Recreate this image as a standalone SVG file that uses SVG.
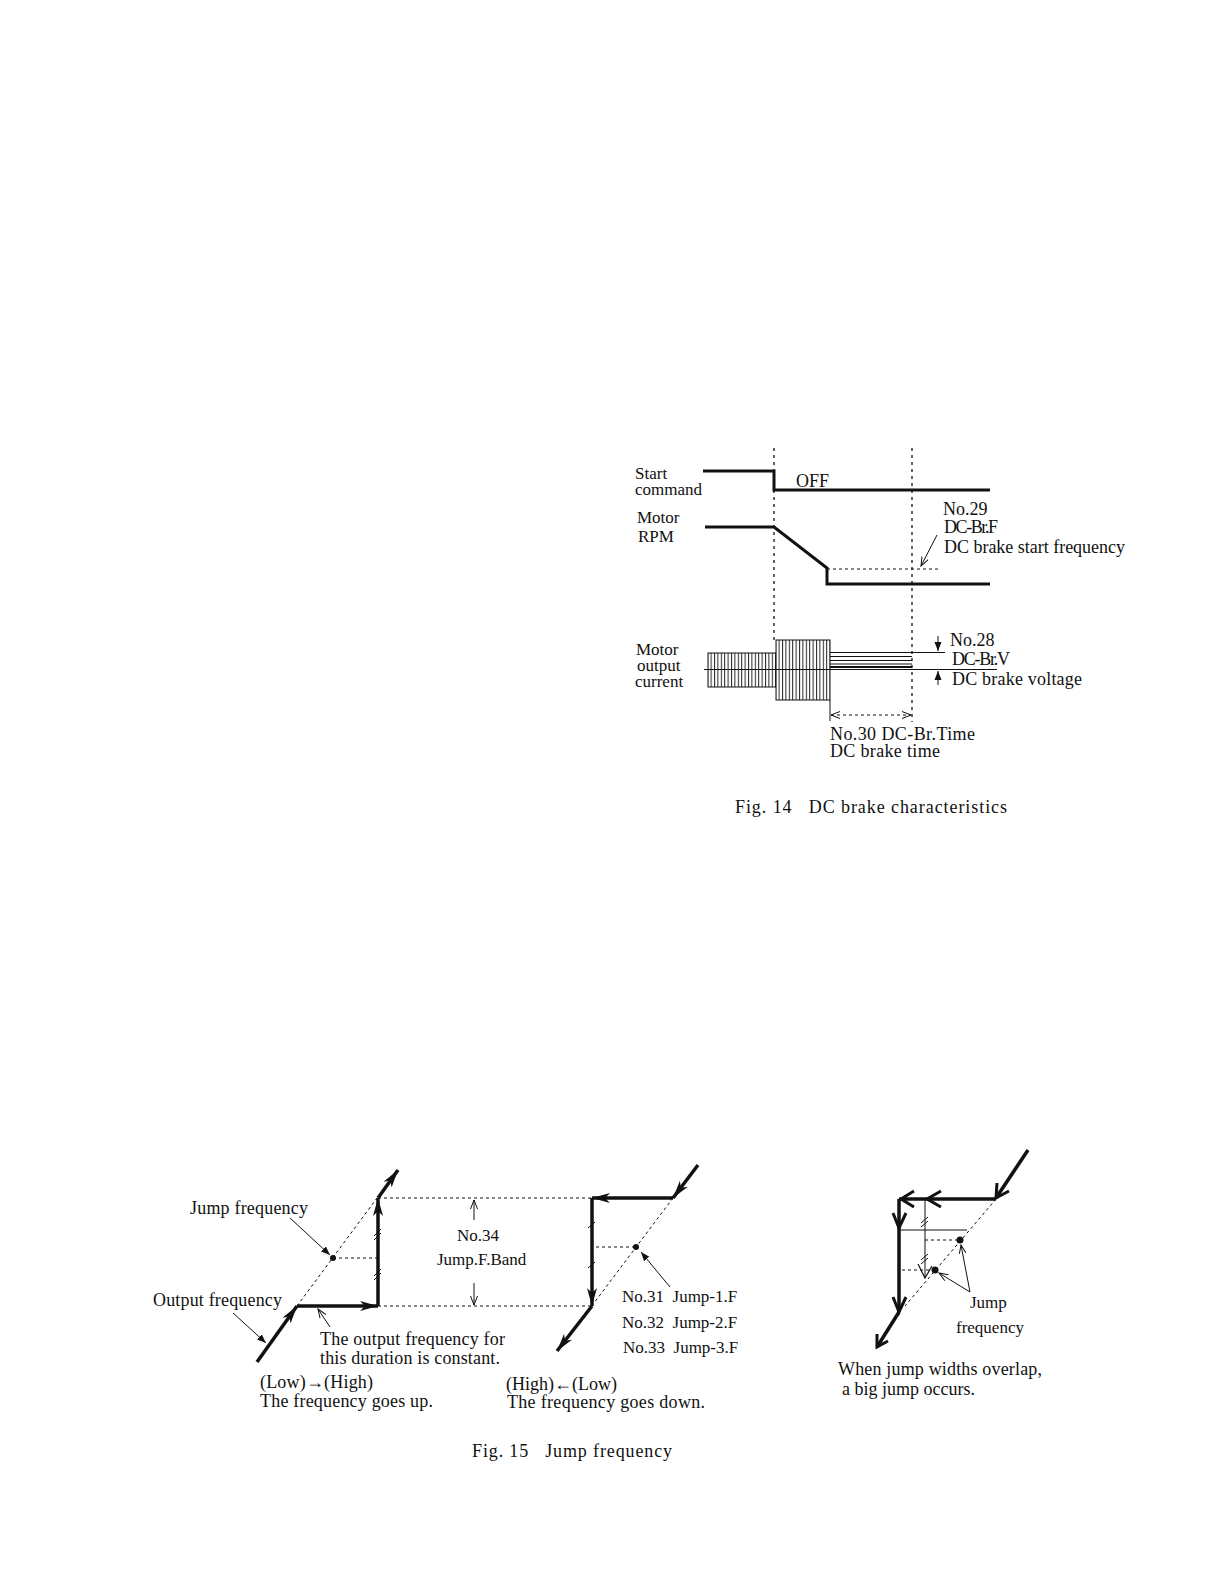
<svg xmlns="http://www.w3.org/2000/svg" width="1224" height="1584" viewBox="0 0 1224 1584">
<style>
text { font-family: "Liberation Serif", "Times New Roman", serif; font-size: 18px; fill: #111; }
.sm { font-size: 17px; }
.thick { stroke: #111; stroke-width: 3; fill: none; stroke-linejoin: miter; }
.bold { stroke: #111; stroke-width: 3.5; fill: none; }
.thin { stroke: #111; stroke-width: 1; fill: none; }
.dash { stroke: #111; stroke-width: 1; fill: none; stroke-dasharray: 3 3; }
.dashv { stroke: #111; stroke-width: 1.3; fill: none; stroke-dasharray: 3 4; }
.chev { stroke: #111; stroke-width: 3; fill: none; stroke-linejoin: miter; }
.chevt { stroke: #111; stroke-width: 1.2; fill: none; }
</style>
<defs>
<pattern id="vhatch" patternUnits="userSpaceOnUse" width="3.4" height="10"><rect width="3.4" height="10" fill="#fff"/><line x1="0.5" y1="0" x2="0.5" y2="10" stroke="#222" stroke-width="1"/></pattern>
<marker id="ah" markerUnits="userSpaceOnUse" markerWidth="20" markerHeight="12" refX="18" refY="6" orient="auto"><path d="M0,1 L18,6 L0,11 L5,6 z" fill="#111"/></marker>
<marker id="ap" markerUnits="userSpaceOnUse" markerWidth="10" markerHeight="8" refX="9" refY="4" orient="auto-start-reverse"><path d="M0,0.5 L9,4 L0,7.5 z" fill="#111"/></marker>
<marker id="ao" markerUnits="userSpaceOnUse" markerWidth="10" markerHeight="8" refX="9" refY="4" orient="auto-start-reverse"><path d="M0,0.5 L9,4 L0,7.5" fill="none" stroke="#111" stroke-width="1"/></marker>
</defs>

<!-- ============ Fig. 14 ============ -->
<g id="fig14-guides">
  <line class="dashv" x1="774" y1="448" x2="774" y2="640"/>
  <line class="dashv" x1="912" y1="448" x2="912" y2="722"/>
</g>

<g id="start-command">
  <text x="635" y="479" class="sm">Start</text>
  <text x="635" y="495" class="sm">command</text>
  <polyline class="thick" points="703,471 774,471 774,490 990,490"/>
  <text x="796" y="487">OFF</text>
</g>

<g id="motor-rpm">
  <text x="637" y="523" class="sm">Motor</text>
  <text x="638" y="542" class="sm">RPM</text>
  <polyline class="thick" points="705,527 774,527 827,568 827,584 990,584"/>
  <line class="dash" x1="827" y1="569" x2="940" y2="569"/>
</g>

<g id="dc-br-f">
  <text x="943" y="515">No.29</text>
  <text x="944" y="533" textLength="54">DC-Br.F</text>
  <text x="944" y="553" textLength="181">DC brake start frequency</text>
</g>

<g id="motor-current">
  <text x="636" y="655" class="sm">Motor</text>
  <text x="637" y="671" class="sm">output</text>
  <text x="635" y="687" class="sm">current</text>
  <rect x="708" y="653" width="68" height="34" fill="url(#vhatch)" stroke="#111" stroke-width="1"/>
  <rect x="776" y="640" width="54" height="60" fill="url(#vhatch)" stroke="#111" stroke-width="1"/>
  <path class="thin" d="M830,652.5 H945 M830,656.5 H912 M830,660.5 H912 M830,664 H912 M704,669.5 H997"/>
  <line x1="830" y1="667" x2="912" y2="667" stroke="#111" stroke-width="2"/>
</g>

<g id="dc-br-v">
  <text x="950" y="646">No.28</text>
  <text x="952" y="665" textLength="58">DC-Br.V</text>
  <text x="952" y="685" textLength="130">DC brake voltage</text>
</g>

<g id="dc-br-time">
  <line class="thin" x1="830" y1="700" x2="830" y2="721"/>
  <text x="830" y="740" textLength="145">No.30 DC-Br.Time</text>
  <text x="830" y="757" textLength="110">DC brake time</text>
</g>

<g id="fig14-caption">
  <text x="735" y="813" textLength="272" xml:space="preserve">Fig. 14   DC brake characteristics</text>
</g>

<!-- ============ Fig. 15 ============ -->
<g id="jump-up">
  <line class="dash" x1="297" y1="1306" x2="377" y2="1198"/>
  <line class="dash" x1="333" y1="1258" x2="377" y2="1258"/>
  <circle cx="333" cy="1258" r="3" fill="#111"/>
  <line class="bold" x1="257" y1="1362" x2="297" y2="1306" marker-end="url(#ah)"/>
  <line class="bold" x1="297" y1="1306" x2="378" y2="1306" marker-end="url(#ah)"/>
  <line class="bold" x1="378" y1="1306" x2="378" y2="1198" marker-end="url(#ah)"/>
  <line class="bold" x1="378" y1="1198" x2="398" y2="1170" marker-end="url(#ah)"/>
  <path class="thin" d="M374,1236 L381,1229 M374,1240 L381,1233 M374,1276 L381,1269 M374,1280 L381,1273"/>
  <text x="190" y="1214" textLength="118">Jump frequency</text>
  <text x="153" y="1306" textLength="129">Output frequency</text>
  <text x="320" y="1345" textLength="185">The output frequency for</text>
  <text x="320" y="1364" textLength="180">this duration is constant.</text>
  <text x="260" y="1388" textLength="113">(Low)→(High)</text>
  <text x="260" y="1407" textLength="173">The frequency goes up.</text>
</g>

<g id="jump-band">
  <line class="dash" x1="378" y1="1198" x2="592" y2="1198"/>
  <line class="dash" x1="378" y1="1306" x2="592" y2="1306"/>
  <text x="457" y="1241" class="sm">No.34</text>
  <text x="437" y="1265" class="sm">Jump.F.Band</text>
</g>

<g id="jump-down">
  <line class="dash" x1="673" y1="1198" x2="594" y2="1303"/>
  <line class="dash" x1="596" y1="1247" x2="636" y2="1247"/>
  <circle cx="636" cy="1247" r="3" fill="#111"/>
  <line class="bold" x1="698" y1="1165" x2="673" y2="1198" marker-end="url(#ah)"/>
  <line class="bold" x1="673" y1="1198" x2="592" y2="1198" marker-end="url(#ah)"/>
  <line class="bold" x1="592" y1="1198" x2="592" y2="1306" marker-end="url(#ah)"/>
  <line class="bold" x1="592" y1="1306" x2="557" y2="1351" marker-end="url(#ah)"/>
  <path class="thin" d="M588,1228 L595,1222 M588,1268 L595,1262"/>
  <text x="622" y="1302" class="sm" xml:space="preserve">No.31  Jump-1.F</text>
  <text x="622" y="1328" class="sm" xml:space="preserve">No.32  Jump-2.F</text>
  <text x="623" y="1353" class="sm" xml:space="preserve">No.33  Jump-3.F</text>
  <text x="506" y="1390" textLength="111">(High)←(Low)</text>
  <text x="507" y="1408" textLength="198">The frequency goes down.</text>
</g>

<g id="jump-overlap">
  <line class="dash" x1="996" y1="1199" x2="905" y2="1306"/>
  <line class="dash" x1="925" y1="1240" x2="960" y2="1240"/>
  <line class="dash" x1="902" y1="1270" x2="935" y2="1270"/>
  <circle cx="960" cy="1240" r="3.5" fill="#111"/>
  <circle cx="935" cy="1270" r="3.5" fill="#111"/>
  <line class="thin" x1="899" y1="1230" x2="967" y2="1230"/>
  <line class="thin" x1="925" y1="1199" x2="925" y2="1278"/>
  <path class="thin" d="M921,1223 L928,1217 M921,1227 L928,1221 M921,1260 L928,1254 M921,1264 L928,1258"/>
  <polyline class="chevt" points="918,1264 925,1278 932,1266"/>
  <line class="bold" x1="1028" y1="1150" x2="996" y2="1198"/>
  <polyline class="chev" points="1009,1191 996,1198 997,1183"/>
  <line class="bold" x1="996" y1="1199" x2="899" y2="1199"/>
  <polyline class="chev" points="914,1191 901,1199 914,1207"/>
  <polyline class="chev" points="941,1191 927,1199 941,1207"/>
  <line class="bold" x1="899" y1="1199" x2="899" y2="1312"/>
  <polyline class="chev" points="893,1213 899,1228 906,1213"/>
  <polyline class="chev" points="893,1297 899,1312 906,1297"/>
  <line class="bold" x1="899" y1="1312" x2="877" y2="1347"/>
  <polyline class="chev" points="888,1341 877,1347 877,1334"/>
  <text x="970" y="1308" class="sm">Jump</text>
  <text x="956" y="1333" class="sm">frequency</text>
  <text x="838" y="1375" textLength="204">When jump widths overlap,</text>
  <text x="842" y="1395" textLength="133">a big jump occurs.</text>
</g>

<g id="fig15-caption">
  <text x="472" y="1457" textLength="200" xml:space="preserve">Fig. 15   Jump frequency</text>
</g>

<!-- ============ connectors / leader lines ============ -->
<g id="connectors">
  <line class="thin" x1="937" y1="535" x2="921" y2="566" marker-end="url(#ao)"/>
  <line class="thin" x1="938" y1="636" x2="938" y2="651" marker-end="url(#ap)"/>
  <line class="thin" x1="938" y1="685" x2="938" y2="671" marker-end="url(#ap)"/>
  <line class="dash" x1="831" y1="715" x2="911" y2="715" marker-start="url(#ao)" marker-end="url(#ao)"/>
  <line class="thin" x1="290" y1="1218" x2="330" y2="1255" marker-end="url(#ap)"/>
  <line class="thin" x1="233" y1="1313" x2="266" y2="1343" marker-end="url(#ap)"/>
  <line class="thin" x1="330" y1="1327" x2="318" y2="1309" marker-end="url(#ao)"/>
  <line class="thin" x1="474" y1="1220" x2="474" y2="1200" marker-end="url(#ao)"/>
  <line class="thin" x1="474" y1="1283" x2="474" y2="1305" marker-end="url(#ao)"/>
  <line class="thin" x1="670" y1="1287" x2="641" y2="1252" marker-end="url(#ap)"/>
  <line class="thin" x1="970" y1="1292" x2="961" y2="1245" marker-end="url(#ao)"/>
  <line class="thin" x1="970" y1="1292" x2="939" y2="1273" marker-end="url(#ao)"/>
</g>
</svg>
